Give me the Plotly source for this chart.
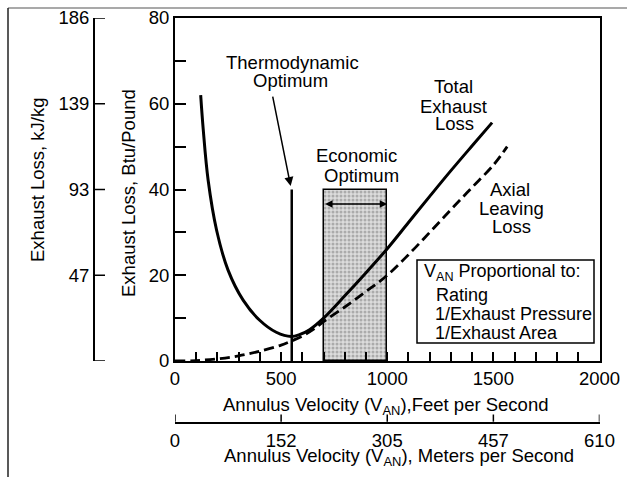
import plotly.graph_objects as go

# ---- data ----
velocity_total = [121, 133, 156, 196, 250, 321, 399, 477, 548, 589, 634, 700, 800, 900, 1000, 1100, 1200, 1300, 1400, 1494]
total_loss = [62, 54, 42.2, 30.5, 21.2, 14.2, 9.5, 6.7, 5.7, 6.2, 7.3, 10.0, 15.2, 20.6, 26.2, 32.3, 38.4, 44.4, 50.2, 55.6]

velocity_axial = [0, 100, 200, 300, 400, 500, 550, 600, 650, 700, 800, 900, 1000, 1100, 1200, 1300, 1400, 1500, 1565]
axial_loss = [0, 0.1, 0.5, 1.2, 2.3, 3.7, 4.7, 5.8, 7.3, 9.2, 12.6, 16.2, 20, 24.8, 30, 35.3, 40.5, 45.7, 50]

thermo_opt_velocity = 550
thermo_opt_height = 40
econ_range = [700, 1000]
econ_height = 40
econ_arrow_level = 36.6

btu_ticks = [0, 20, 40, 60, 80]
kj_labels = ["", "47", "93", "139", "186"]
fps_ticks = [0, 500, 1000, 1500, 2000]
mps_labels = ["0", "152", "305", "457", "610"]

W, H = 627, 477
FONT = "Liberation Sans, Arial, sans-serif"
FS = 18.5


def px(x):
    return x / W


def py(y):
    return 1 - y / H


fig = go.Figure()

# economic optimum shaded box
fig.add_trace(go.Bar(
    x=[(econ_range[0] + econ_range[1]) / 2], y=[econ_height],
    width=[econ_range[1] - econ_range[0]], base=0,
    marker=dict(color="#d0d0d0", line=dict(color="black", width=1.5),
                pattern=dict(shape=".", fgcolor="#7a7a7a", bgcolor="#dcdcdc", size=4, solidity=0.45)),
    showlegend=False, hoverinfo="skip"))

# axial leaving loss (dashed)
fig.add_trace(go.Scatter(x=velocity_axial, y=axial_loss, mode="lines",
                         line=dict(color="black", width=2.8, dash="10px,5px", shape="spline"),
                         showlegend=False))
# total exhaust loss
fig.add_trace(go.Scatter(x=velocity_total, y=total_loss, mode="lines",
                         line=dict(color="black", width=3, shape="spline"),
                         showlegend=False))
# thermodynamic optimum vertical line
fig.add_trace(go.Scatter(x=[thermo_opt_velocity, thermo_opt_velocity], y=[0, thermo_opt_height],
                         mode="lines", line=dict(color="black", width=2.5), showlegend=False))

# helper traces so the secondary scales get their own (invisible) subplots
fig.add_trace(go.Scatter(x=[0, 2000], y=[0, 80], mode="none", xaxis="x3", yaxis="y2",
                         showlegend=False, hoverinfo="skip"))
fig.add_trace(go.Scatter(x=[0, 2000], y=[0, 80], mode="none", xaxis="x2", yaxis="y3",
                         showlegend=False, hoverinfo="skip"))

ann = []


def text(x, y, s, xanchor="center", angle=0, size=FS):
    ann.append(dict(x=px(x), y=py(y), xref="paper", yref="paper", text=s, showarrow=False,
                    xanchor=xanchor, yanchor="middle", textangle=angle,
                    font=dict(family=FONT, size=size, color="black")))


text(292, 62, "Thermodynamic")
text(290, 80, "Optimum")
text(356, 156, "Economic")
text(361, 175, "Optimum")
text(453, 87, "Total")
text(453, 106, "Exhaust")
text(454, 124, "Loss")
text(510, 189, "Axial")
text(511, 208, "Leaving")
text(511, 226, "Loss")

text(422, 272, "V<sub>AN</sub> Proportional to:", xanchor="left", size=18)
text(434, 295, "Rating", xanchor="left", size=18)
text(433, 314, "1/Exhaust Pressure", xanchor="left", size=18)
text(433, 333, "1/Exhaust Area", xanchor="left", size=18)

text(37, 180, "Exhaust Loss, kJ/kg", angle=-90)
text(128, 193, "Exhaust Loss, Btu/Pound", angle=-90)
text(385, 406, "Annulus Velocity (V<sub>AN</sub>),Feet per Second")
text(399, 457, "Annulus Velocity (V<sub>AN</sub>), Meters per Second")

# arrow to thermodynamic optimum
ann.append(dict(x=545, y=40.8, ax=459, ay=62, xref="x", yref="y", axref="x", ayref="y",
                text="", showarrow=True, arrowhead=2, arrowsize=1.2, arrowwidth=1.5, arrowcolor="black"))
# double-headed arrow across economic optimum
ann.append(dict(x=econ_range[1], y=econ_arrow_level, ax=econ_range[0], ay=econ_arrow_level,
                xref="x", yref="y", axref="x", ayref="y", text="", showarrow=True,
                arrowhead=2, startarrowhead=2, arrowside="end+start", arrowsize=1, arrowwidth=1.5,
                arrowcolor="black"))

shapes = [
    # legend box
    dict(type="rect", xref="paper", yref="paper", x0=px(417), x1=px(594), y0=py(343), y1=py(260),
         line=dict(color="black", width=1.5), fillcolor="white", layer="below"),
    # outer frame lines
    dict(type="line", xref="paper", yref="paper", x0=px(8), x1=px(627), y0=py(8), y1=py(8),
         line=dict(color="#555555", width=1.2)),
    dict(type="line", xref="paper", yref="paper", x0=px(8), x1=px(8), y0=py(8), y1=py(477),
         line=dict(color="#222222", width=1.5)),
]
# tick marks of the kJ/kg scale (placed through the y2 scale)
for v in btu_ticks:
    shapes.append(dict(type="line", xref="paper", yref="y2", x0=px(95), x1=px(105), y0=v, y1=v,
                       line=dict(color="black", width=1.5)))
# tick marks of the m/s scale (placed through the x2 scale)
for v in fps_ticks:
    shapes.append(dict(type="line", xref="x2", yref="paper", x0=v, x1=v, y0=py(421.7), y1=py(414.5),
                       line=dict(color="black", width=1.5)))

axis_font = dict(family=FONT, size=FS, color="black")
hidden = dict(visible=False, showgrid=False, zeroline=False, showline=False, showticklabels=False)

fig.update_layout(
    width=W, height=H, autosize=False,
    margin=dict(l=0, r=0, t=0, b=0, pad=0, autoexpand=False),
    paper_bgcolor="white", plot_bgcolor="rgba(0,0,0,0)",
    font=dict(family=FONT, size=FS, color="black"),
    showlegend=False,
    xaxis=dict(domain=[px(175), px(599.5)], range=[0, 2000], tickvals=fps_ticks,
               ticks="inside", ticklen=9, tickwidth=1.5, tickcolor="black",
               minor=dict(dtick=100, ticks="inside", ticklen=9, tickwidth=1.5, tickcolor="black"),
               showline=True, linewidth=2, linecolor="black", mirror=True,
               showgrid=False, zeroline=False, tickfont=axis_font, automargin=False),
    yaxis=dict(domain=[py(361), py(18)], range=[0, 80], tickvals=btu_ticks,
               ticks="inside", ticklen=11, tickwidth=1.5, tickcolor="black",
               minor=dict(dtick=10, ticks="inside", ticklen=11, tickwidth=1.5, tickcolor="black"),
               showline=True, linewidth=2, linecolor="black", mirror=True,
               showgrid=False, zeroline=False, tickfont=axis_font, automargin=False),
    # metres-per-second scale
    xaxis2=dict(domain=[px(175), px(599.5)], anchor="y3", side="bottom",
                range=[0, 2000], tickvals=fps_ticks, ticktext=mps_labels, ticks="",
                showline=True, linewidth=1.5, linecolor="black",
                showgrid=False, zeroline=False, tickfont=axis_font, ticklabelstandoff=1,
                automargin=False),
    yaxis3=dict(domain=[py(421.7), py(380)], anchor="x2", range=[0, 80], **hidden),
    # kJ/kg scale
    yaxis2=dict(domain=[py(361), py(18)], anchor="x3", side="left",
                range=[0, 80], tickvals=btu_ticks, ticktext=kj_labels, ticks="",
                showline=True, linewidth=2, linecolor="black",
                showgrid=False, zeroline=False, tickfont=axis_font, automargin=False),
    xaxis3=dict(domain=[px(95), px(140)], anchor="y2", range=[0, 2000], **hidden),
    annotations=ann,
    shapes=shapes,
    bargap=0,
)

fig.write_html("out.html", config={"responsive": False, "displayModeBar": False},
               post_script="document.body.style.margin='0';document.body.style.overflow='hidden';")
